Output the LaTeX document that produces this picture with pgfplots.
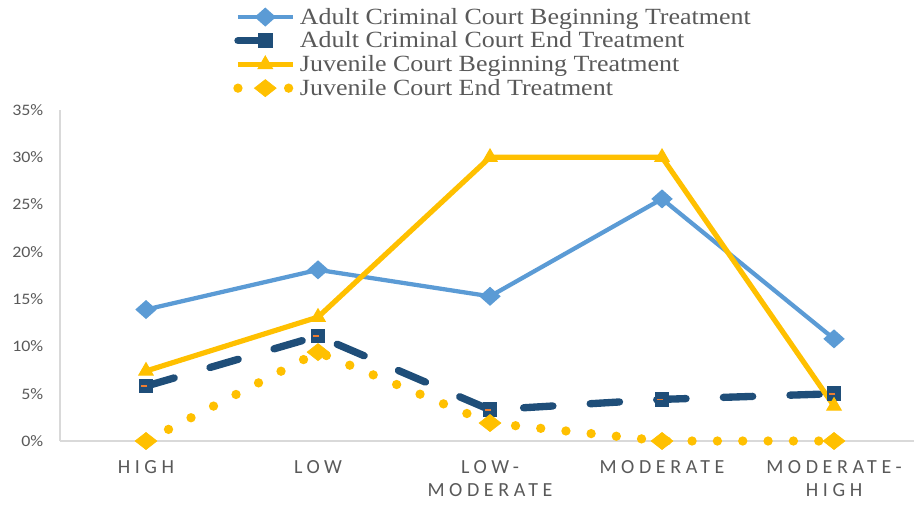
\documentclass[border=0pt]{standalone}
\usepackage{fontspec}
\usepackage{pgfplots}
\pgfplotsset{compat=1.18}
\setmainfont{Carlito}
\newfontfamily\legfont[FakeStretch=1.12]{Liberation Serif}
\newfontfamily\tickfont[FakeStretch=1.12]{Carlito}
\newfontfamily\xfont[LetterSpace=23]{Carlito}
\definecolor{lblue}{HTML}{5B9BD5}
\definecolor{dblue}{HTML}{1F4E79}
\definecolor{gold}{HTML}{FFC000}
\definecolor{txt}{HTML}{595959}
\definecolor{axl}{HTML}{D9D9D9}
\definecolor{orng}{HTML}{ED7D31}
\begin{document}
\begin{tikzpicture}
\begin{axis}[
  name=ax,
  scale only axis, width=640.5pt, height=248.25pt,
  xmin=-0.5, xmax=4.465, ymin=0, ymax=35,
  clip=false,
  axis x line=bottom, axis y line=left,
  axis line style={axl, line width=1pt, -},
  major tick length=0pt,
  xtick={0,1,2,3,4},
  xticklabels={HIGH,LOW,{LOW-\\MODERATE},MODERATE,{MODERATE-\\HIGH}},
  x tick label style={font=\xfont\fontsize{15}{17}\selectfont, text=txt, align=center, anchor=north, yshift=-11pt},
  ytick={0,5,...,35},
  yticklabel={\pgfmathprintnumber{\tick}\%},
  /pgf/number format/assume math mode=true,
  y tick label style={font=\tickfont\fontsize{12}{12}\selectfont, text=txt, xshift=-9pt},
  legend style={draw=none, fill=none, at={(0.2026,1.317)}, anchor=north west,
    font=\legfont\fontsize{17.4}{17}\selectfont, text=txt, row sep=0.2pt, inner sep=0pt},
  legend cell align=left,
  legend image code/.code={\draw[mark repeat=2,mark phase=2] plot coordinates {(0pt,0pt) (20.5pt,0pt) (41pt,0pt)};},
]
\addplot[lblue, line width=3.2pt, mark=diamond*, mark size=5pt, mark options={xscale=1.5}]
  coordinates {(0,13.9)(1,18.1)(2,15.3)(3,25.6)(4,10.8)};
\addlegendentry{Adult Criminal Court Beginning Treatment}
\addplot[dblue, line width=5.5pt, line cap=round, dash pattern=on 22pt off 28pt, mark=square*, mark size=5pt, mark options={solid, line width=1pt}]
  coordinates {(0,5.8)(1,11.1)(2,3.3)(3,4.4)(4,5.0)};
\addlegendentry{Adult Criminal Court End Treatment}
\addplot[only marks, orng, mark=-, mark size=2.5pt, mark options={line width=1.2pt, xshift=-1.5pt}, forget plot]
  coordinates {(0,5.8)(1,11.1)(2,3.3)(3,4.4)(4,5.0)};
\addplot[gold, line width=3.9pt, mark=triangle*, mark size=6pt, mark options={line width=1pt}]
  coordinates {(0,7.4)(1,13.1)(2,30.0)(3,30.0)(4,3.7)};
\addlegendentry{Juvenile Court Beginning Treatment}
\addplot[gold, line width=7pt, line cap=round, dash pattern=on 0pt off 19pt, mark=diamond*, mark size=6.4pt, mark options={solid, xscale=1.7, line width=0.5pt}]
  coordinates {(0,0)(1,9.4)(2,1.9)(3,0)(4,0)};
\addlegendentry{Juvenile Court End Treatment}
\end{axis}
\pgfresetboundingbox
\useasboundingbox ([shift={(-45pt,-47.25pt)}]ax.south west) rectangle ([shift={(640.5pt,330.75pt)}]ax.south west);
\end{tikzpicture}
\end{document}
